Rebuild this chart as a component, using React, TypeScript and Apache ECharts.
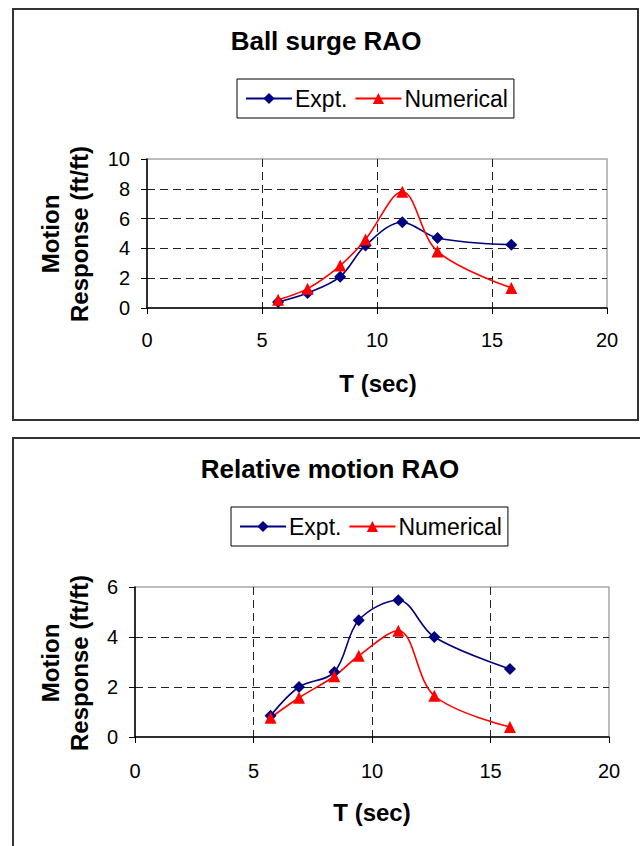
import React, { useEffect, useRef } from "react";
import * as echarts from "echarts";

// ---- data ----
const surgePeriods = [5.7, 6.98, 8.4, 9.5, 11.1, 12.63, 15.84];
const surgeExpt = [0.4, 1.0, 2.1, 4.2, 5.75, 4.7, 4.25];
const surgeNumerical = [0.55, 1.3, 2.85, 4.6, 7.8, 3.8, 1.35];

const relPeriods = [5.72, 6.92, 8.41, 9.44, 11.11, 12.63, 15.82];
const relExpt = [0.85, 2.0, 2.6, 4.67, 5.47, 4.0, 2.72];
const relNumerical = [0.77, 1.57, 2.43, 3.25, 4.25, 1.65, 0.4];

const xTicks = { min: 0, max: 20, interval: 5 };
const surgeYTicks = { min: 0, max: 10, interval: 2 };
const relYTicks = { min: 0, max: 6, interval: 2 };

const seriesNames = ["Expt.", "Numerical"];
const titles = ["Ball surge RAO", "Relative motion RAO"];
const xName = "T (sec)";
const yNameLines = ["Motion", "Response (ft/ft)"];

const FONT = "'Liberation Sans', Arial, Helvetica, sans-serif";
const NAVY = "#000080";
const RED = "#ff0000";

function pairs(xs: number[], ys: number[]) {
  return xs.map((x, i) => [x, ys[i]]);
}

function makeXAxis(gridIndex: number, margin: number) {
  return {
    type: "value",
    gridIndex,
    min: xTicks.min,
    max: xTicks.max,
    interval: xTicks.interval,
    axisLine: { show: true, onZero: false, lineStyle: { color: "#000", width: 1.5 } },
    axisTick: { show: true, length: 6, lineStyle: { color: "#000", width: 1 } },
    axisLabel: { fontSize: 20, color: "#000", fontFamily: FONT, margin },
    splitLine: {
      show: true,
      showMinLine: false,
      showMaxLine: false,
      lineStyle: { type: [8, 5], color: "#222", width: 1 },
    },
  };
}

function makeYAxis(gridIndex: number, t: { min: number; max: number; interval: number }, margin: number) {
  return {
    type: "value",
    gridIndex,
    min: t.min,
    max: t.max,
    interval: t.interval,
    axisLine: { show: true, onZero: false, lineStyle: { color: "#000", width: 1.5 } },
    axisTick: { show: true, length: 6, lineStyle: { color: "#000", width: 1 } },
    axisLabel: { fontSize: 20, color: "#000", fontFamily: FONT, margin },
    splitLine: {
      show: true,
      showMinLine: false,
      showMaxLine: false,
      lineStyle: { type: [8, 5], color: "#222", width: 1 },
    },
  };
}

function makeSeries(name: string, data: number[][], idx: number, color: string, symbol: string, size: number) {
  return {
    type: "line",
    name,
    xAxisIndex: idx,
    yAxisIndex: idx,
    data,
    smooth: 0.35,
    symbol,
    symbolSize: size,
    showAllSymbol: true,
    itemStyle: { color },
    lineStyle: { color, width: 1.6 },
  };
}

function legendAt(left: number, top: number) {
  return {
    data: seriesNames,
    left,
    top,
    orient: "horizontal",
    itemWidth: 46,
    itemHeight: 14,
    itemGap: 7,
    padding: [8, 6, 8, 8],
    borderColor: "#000",
    borderWidth: 1,
    backgroundColor: "#fff",
    selectedMode: false,
    textStyle: { fontSize: 23, color: "#000", fontFamily: FONT, padding: [0, 0, 0, -2] },
  };
}

function yNameTexts(cy: number) {
  return [
    {
      type: "text",
      x: 50,
      y: cy,
      rotation: Math.PI / 2,
      style: {
        text: yNameLines[0],
        font: `bold 24px ${FONT}`,
        fill: "#000",
        textAlign: "center",
        textVerticalAlign: "middle",
      },
    },
    {
      type: "text",
      x: 79,
      y: cy,
      rotation: Math.PI / 2,
      style: {
        text: yNameLines[1],
        font: `bold 24px ${FONT}`,
        fill: "#000",
        textAlign: "center",
        textVerticalAlign: "middle",
      },
    },
  ];
}

function centerText(text: string, x: number, y: number, size: number) {
  return {
    type: "text",
    x,
    y,
    style: {
      text,
      font: `bold ${size}px ${FONT}`,
      fill: "#000",
      textAlign: "center",
      textVerticalAlign: "middle",
    },
  };
}

export default function App() {
  const ref = useRef<HTMLDivElement>(null);
  useEffect(() => {
    if (!ref.current) return;
    const chart = echarts.init(ref.current, undefined, { renderer: "svg" });
    const option = {
      animation: false,
      backgroundColor: "#fff",
      grid: [
        { left: 147, top: 159, width: 460, height: 149, show: true, borderColor: "#a8a8a8", borderWidth: 1.5, backgroundColor: "transparent" },
        { left: 135, top: 587, width: 474, height: 150, show: true, borderColor: "#a8a8a8", borderWidth: 1.5, backgroundColor: "transparent" },
      ],
      xAxis: [makeXAxis(0, 22), makeXAxis(1, 24)],
      yAxis: [makeYAxis(0, surgeYTicks, 17), makeYAxis(1, relYTicks, 17)],
      legend: [legendAt(237, 79), legendAt(231, 507)],
      series: [
        makeSeries(seriesNames[0], pairs(surgePeriods, surgeExpt), 0, NAVY, "diamond", 12),
        makeSeries(seriesNames[1], pairs(surgePeriods, surgeNumerical), 0, RED, "triangle", 12),
        makeSeries(seriesNames[0], pairs(relPeriods, relExpt), 1, NAVY, "diamond", 12),
        makeSeries(seriesNames[1], pairs(relPeriods, relNumerical), 1, RED, "triangle", 12),
      ],
      graphic: [
        {
          type: "rect",
          shape: { x: 13, y: 9, width: 625, height: 411 },
          style: { fill: "none", stroke: "#333", lineWidth: 2 },
          silent: true,
        },
        {
          type: "rect",
          shape: { x: 13, y: 438, width: 640, height: 430 },
          style: { fill: "none", stroke: "#333", lineWidth: 2 },
          silent: true,
        },
        centerText(titles[0], 326, 41, 26),
        centerText(titles[1], 330, 469, 26),
        centerText(xName, 378, 383, 24),
        centerText(xName, 372, 812, 24),
        ...yNameTexts(234),
        ...yNameTexts(663),
      ],
    };
    chart.setOption(option as any);
    return () => chart.dispose();
  }, []);
  return (
    <div
      ref={ref}
      style={{ position: "absolute", left: 0, top: 0, width: 640, height: 846 }}
    />
  );
}
